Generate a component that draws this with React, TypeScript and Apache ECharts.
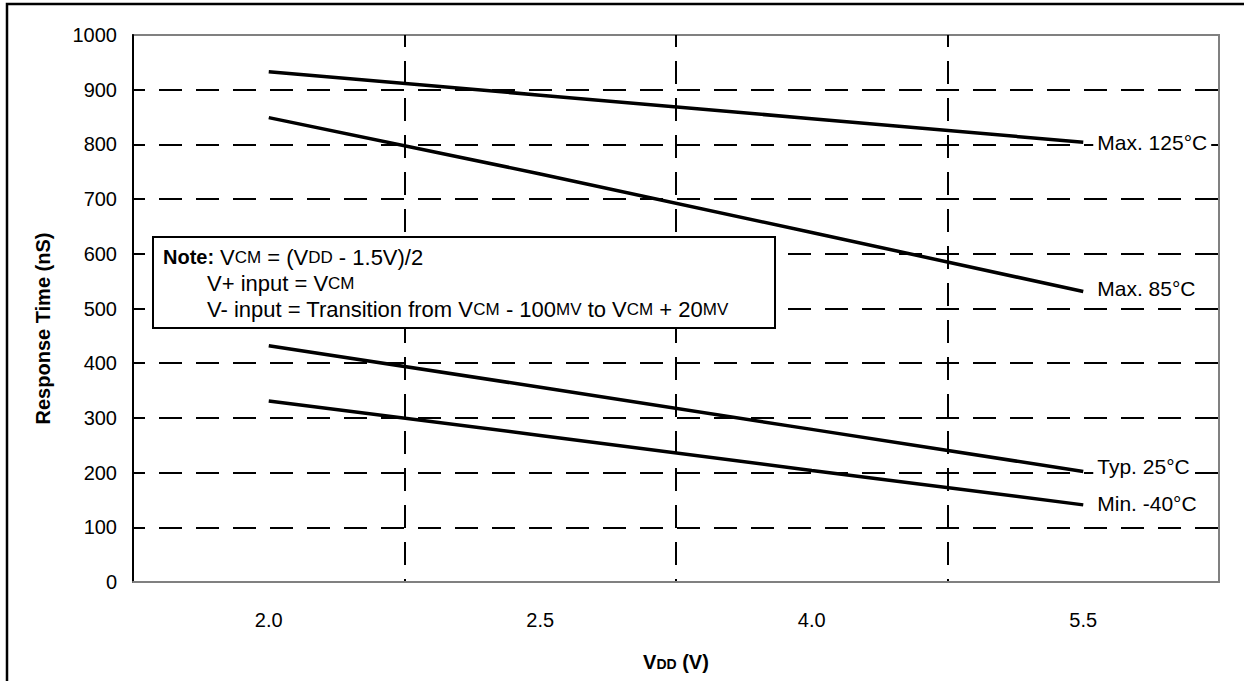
import React, { useEffect, useRef } from "react";
import * as echarts from "echarts";

const categories = ["2.0", "2.5", "4.0", "5.5"];
const max125 = [933, 890, 847, 804];
const max85 = [849, 746, 639, 531];
const typ25 = [432, 356, 279, 202];
const min40 = [331, 268, 204, 141];
const seriesNames = ["Max. 125°C", "Max. 85°C", "Typ. 25°C", "Min. -40°C"];
const labelOffsets = [[0, 0], [0, -3], [0, -5], [0, -1]];

const FONT = 'Arial, "Liberation Sans", Helvetica, sans-serif';

export default function App() {
  const ref = useRef<HTMLDivElement>(null);
  useEffect(() => {
    if (!ref.current) return;
    const chart = echarts.init(ref.current, null, { renderer: "svg" });
    const dash = { color: "#000", width: 2, type: [23, 14] as number[], dashOffset: 11 };
    const datasets = [max125, max85, typ25, min40];
    const noteRich = {
      n: { fontSize: 22, fontFamily: FONT, fill: "#000" },
      s: { fontSize: 17, fontFamily: FONT, fill: "#000" },
    };
    chart.setOption({
      animation: false,
      backgroundColor: "#fff",
      textStyle: { fontFamily: FONT },
      grid: {
        left: 133,
        top: 35,
        right: 25,
        bottom: 99,
        show: true,
        borderColor: "#808080",
        borderWidth: 2,
        backgroundColor: "transparent",
      },
      xAxis: {
        type: "category",
        data: categories,
        boundaryGap: true,
        axisLine: { show: true, lineStyle: { color: "#808080", width: 2 } },
        axisTick: { show: false },
        axisLabel: { margin: 28, fontSize: 20, color: "#000", fontFamily: FONT },
        splitLine: { show: true, showMinLine: false, showMaxLine: false, lineStyle: dash },
        name: "{b|V}{s|DD}{b| (V)}",
        nameLocation: "middle",
        nameGap: 70,
        nameTextStyle: {
          rich: {
            b: { fontSize: 20, fontWeight: "bold", color: "#000", fontFamily: FONT },
            s: { fontSize: 14, fontWeight: "bold", color: "#000", fontFamily: FONT, padding: [4, 0, 0, 0] },
          },
        },
      },
      yAxis: {
        type: "value",
        min: 0,
        max: 1000,
        interval: 100,
        axisLine: { show: true, lineStyle: { color: "#000", width: 2 } },
        axisTick: { show: false },
        axisLabel: {
          margin: 16,
          fontSize: 20,
          color: "#000",
          fontFamily: FONT,
          formatter: (v: number) => String(v),
        },
        splitLine: { show: true, showMinLine: false, showMaxLine: false, lineStyle: dash },
        name: "Response Time (nS)",
        nameLocation: "middle",
        nameRotate: 90,
        nameGap: 80,
        nameTextStyle: { fontSize: 20, fontWeight: "bold", color: "#000", fontFamily: FONT, padding: [0, 40, 0, 0] },
      },
      series: datasets.map((d, i) => ({
        type: "line",
        name: seriesNames[i],
        data: d,
        showSymbol: false,
        symbol: "none",
        lineStyle: { color: "#000", width: 3.5 },
        z: 5,
        endLabel: {
          show: true,
          formatter: "{a}",
          distance: 10,
          offset: labelOffsets[i],
          fontSize: 21,
          color: "#000",
          fontFamily: FONT,
          backgroundColor: "#fff",
          padding: [1, 4, 1, 4],
        },
      })),
      graphic: [
        {
          type: "rect",
          shape: { x: 7, y: 4, width: 1400, height: 1000 },
          style: { fill: "none", stroke: "#000", lineWidth: 2.5 },
          z: 100,
        },
        {
          type: "rect",
          shape: { x: 153, y: 237, width: 622, height: 91 },
          style: { fill: "#fff", stroke: "#000", lineWidth: 2 },
          z: 100,
        },
        {
          type: "text",
          x: 163,
          y: 257,
          z: 101,
          style: {
            text: "Note:",
            fontSize: 20,
            fontWeight: "bold",
            fontFamily: FONT,
            fill: "#000",
            verticalAlign: "middle",
          },
        },
        {
          type: "text",
          x: 220,
          y: 257,
          z: 101,
          style: {
            text: "{n|V}{s|CM}{n| = (V}{s|DD}{n| - 1.5V)/2}",
            verticalAlign: "middle",
            rich: noteRich,
          },
        },
        {
          type: "text",
          x: 207,
          y: 283,
          z: 101,
          style: {
            text: "{n|V+ input = V}{s|CM}",
            verticalAlign: "middle",
            rich: noteRich,
          },
        },
        {
          type: "text",
          x: 207,
          y: 309,
          z: 101,
          style: {
            text: "{n|V- input = Transition from V}{s|CM}{n| - 100}{s|MV}{n| to V}{s|CM}{n| + 20}{s|MV}",
            verticalAlign: "middle",
            rich: noteRich,
          },
        },
      ],
    });
    return () => chart.dispose();
  }, []);
  return (
    <div
      ref={ref}
      style={{ position: "absolute", left: 0, top: 0, width: 1244, height: 681 }}
    />
  );
}
